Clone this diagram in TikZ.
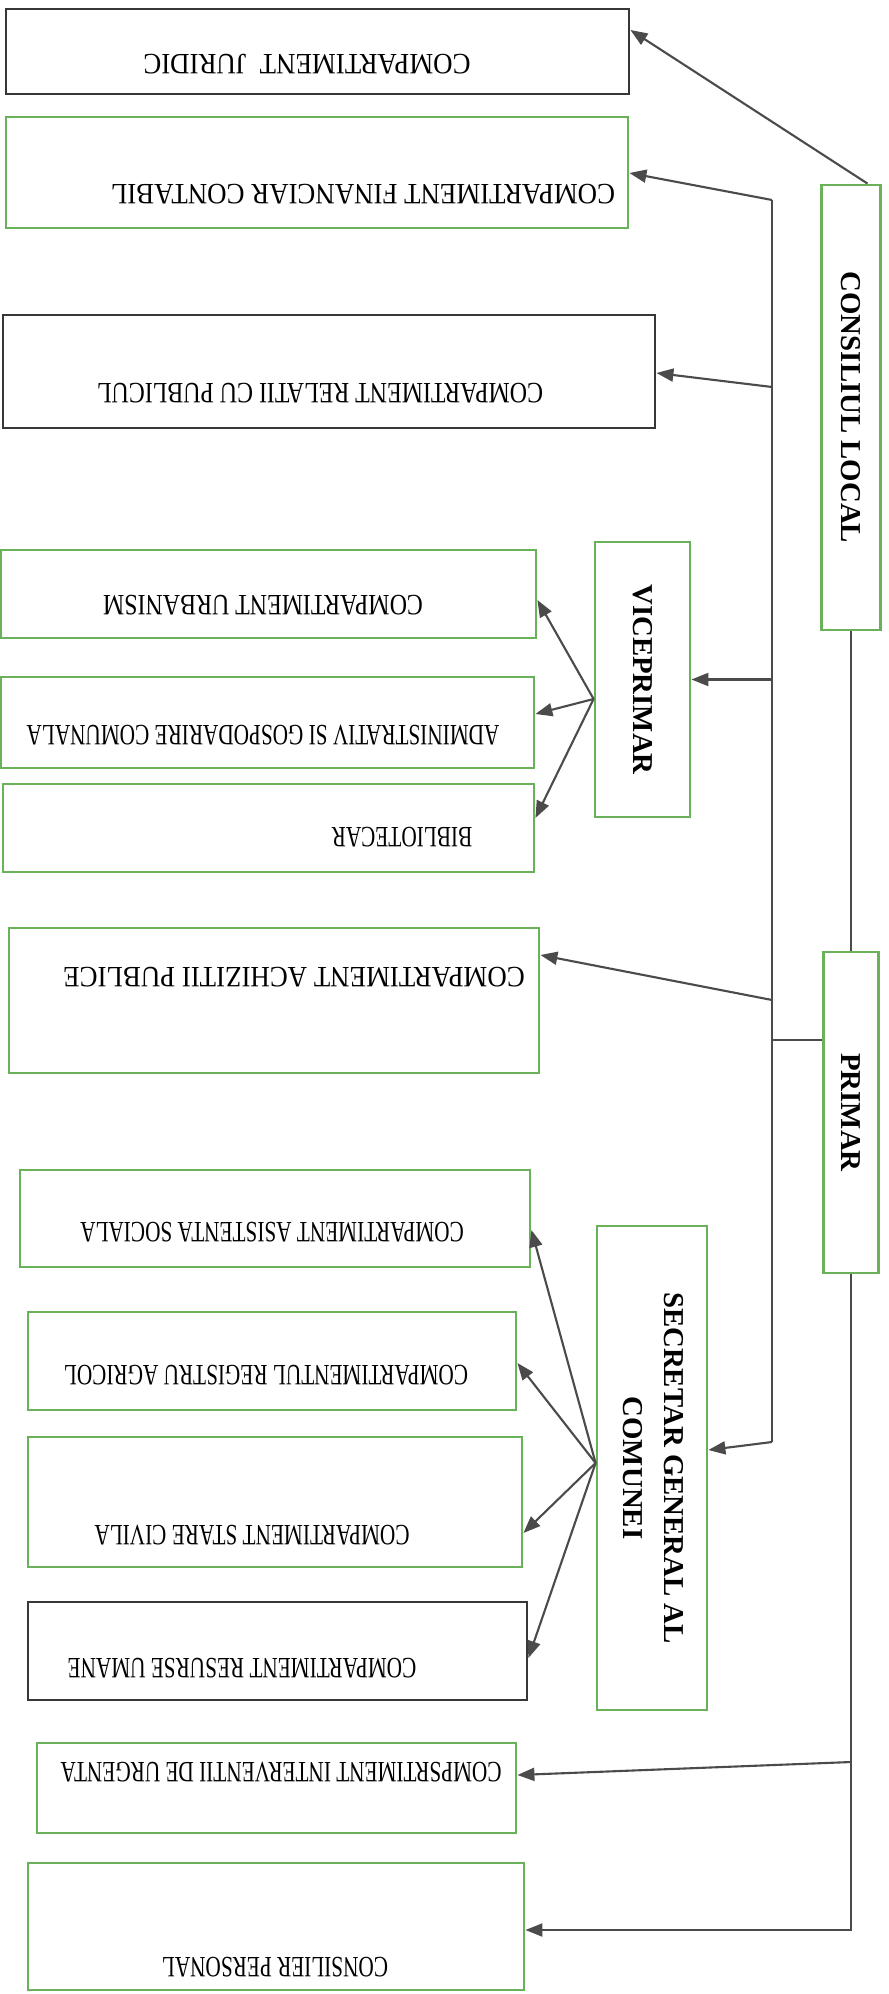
\documentclass[tikz,border=0pt]{standalone}
\usepackage{fontspec}
\setmainfont{Liberation Serif}
\newfontfamily\widefont[FakeStretch=0.91]{Liberation Serif}
\newfontfamily\midfont[FakeStretch=0.81]{Liberation Serif}
\newfontfamily\slimfont[FakeStretch=0.72]{Liberation Serif}
\usepackage{graphicx}
\usepackage{xcolor}
\usepackage{tikz}
\usetikzlibrary{arrows.meta}

\definecolor{boxgreen}{RGB}{106,178,90}
\definecolor{boxdark}{RGB}{55,55,55}
\definecolor{linegray}{RGB}{75,75,75}

\tikzset{
  greenbox/.style={draw=boxgreen, line width=0.8pt, inner sep=0pt},
  darkbox/.style={draw=boxdark, line width=0.8pt, inner sep=0pt},
  conn/.style={draw=linegray, line width=0.6pt},
  arr/.style={conn, -{Triangle[length=1.7mm, width=1.3mm]}},
  widetxt/.style={inner sep=0pt, rotate=180, font=\fontsize{8.4}{10}\selectfont\widefont},
  midtxt/.style={inner sep=0pt, rotate=180, font=\fontsize{8.4}{10}\selectfont\midfont},
  slimtxt/.style={inner sep=0pt, rotate=180, font=\fontsize{8.4}{10}\selectfont\slimfont},
  head/.style={font=\fontsize{8.2}{11.4}\selectfont\bfseries},
}

\begin{document}
\begin{tikzpicture}[x=0.1mm, y=-0.1mm]

    \useasboundingbox (0,0) rectangle (889,1994);

    % right column
    \node[greenbox, head, minimum width=5.9mm, minimum height=44.5mm] (cl) at (851,407.5) {\rotatebox{-90}{CONSILIUL LOCAL}};
    \node[greenbox, head, minimum width=9.5mm, minimum height=27.5mm] (vice) at (642.5,679.5) {\rotatebox{-90}{VICEPRIMAR}};
    \node[greenbox, head, minimum width=5.5mm, minimum height=32.1mm] (pri) at (851,1112.5) {\rotatebox{-90}{PRIMAR}};
    \node[greenbox, head, minimum width=11mm, minimum height=48.4mm] (sec) at (652,1468) {\rotatebox{-90}{\begin{tabular}{@{}c@{}}SECRETAR GENERAL AL\\COMUNEI\end{tabular}}};

    % compartments
    \node[darkbox, minimum width=62.3mm, minimum height=8.5mm] (jur) at (317.5,51.5) {};
    \node[widetxt] (jurtxt) at (307,64) {COMPARTIMENT\ \ JURIDIC};
    \node[greenbox, minimum width=62.2mm, minimum height=11.1mm] (fin) at (317,172.5) {};
    \node[widetxt] (fintxt) at (363,194) {COMPARTIMENT FINANCIAR CONTABIL};
    \node[darkbox, minimum width=65.2mm, minimum height=11.3mm] (rel) at (329,371.5) {};
    \node[midtxt] (reltxt) at (320,393) {COMPARTIMENT RELATII CU PUBLICUL};
    \node[greenbox, minimum width=53.5mm, minimum height=8.8mm] (urb) at (268.5,594) {};
    \node[midtxt] (urbtxt) at (263,605) {COMPARTIMENT URBANISM};
    \node[greenbox, minimum width=53.3mm, minimum height=9.1mm] (adm) at (267.5,722.5) {};
    \node[slimtxt] (admtxt) at (263,735) {ADMINISTRATIV SI GOSPODARIRE COMUNALA};
    \node[greenbox, minimum width=53.1mm, minimum height=8.8mm] (bib) at (268.5,828) {};
    \node[slimtxt] (bibtxt) at (402,837) {BIBLIOTECAR};
    \node[greenbox, minimum width=53mm, minimum height=14.5mm] (ach) at (274,1000.5) {};
    \node[widetxt] (achtxt) at (294,977) {COMPARTIMENT ACHIZITII PUBLICE};
    \node[greenbox, minimum width=51mm, minimum height=9.7mm] (asi) at (275,1218.5) {};
    \node[slimtxt] (asitxt) at (272,1232) {COMPARTIMENT ASISTENTA SOCIALA};
    \node[greenbox, minimum width=48.8mm, minimum height=9.8mm] (reg) at (272,1361) {};
    \node[slimtxt] (regtxt) at (266,1375) {COMPARTIMENTUL REGISTRU AGRICOL};
    \node[greenbox, minimum width=49.4mm, minimum height=13mm] (sta) at (275,1502) {};
    \node[slimtxt] (statxt) at (252,1535) {COMPARTIMENT STARE CIVILA};
    \node[darkbox, minimum width=49.9mm, minimum height=9.8mm] (res) at (277.5,1651) {};
    \node[slimtxt] (restxt) at (242,1668) {COMPARTIMENT RESURSE UMANE};
    \node[greenbox, minimum width=47.9mm, minimum height=9mm] (urg) at (276.5,1788) {};
    \node[slimtxt] (urgtxt) at (281,1772) {COMPSRTIMENT INTERVENTII DE URGENTA};
    \node[greenbox, minimum width=49.6mm, minimum height=12.7mm] (per) at (276,1926.5) {};
    \node[slimtxt] (pertxt) at (275,1967) {CONSILIER PERSONAL};

    % lines
    \coordinate (bustop) at (772,200);
    \coordinate (busend) at (772,1442);
    \draw[conn] (bustop) -- (busend);
    \draw[conn] (cl.south) -- (pri.north);
    \draw[conn] (pri.west |- 0,1040) -- (bustop |- 0,1040);

    \draw[arr] ([xshift=1.65mm]cl.north) -- (jur.east |- 0,30);
    \draw[arr] (bustop) -- (fin.east |- 0,173);
    \draw[arr] (bustop |- 0,387) -- (rel.east |- 0,373);
    \draw[arr] (bustop |- vice.east) -- (vice.east);
    \draw[arr] (bustop |- 0,1000) -- (ach.east |- 0,955);
    \draw[arr] (busend) -- (sec.east |- 0,1450);
    \draw[arr] (pri.south |- 0,1762) -- (urg.east |- 0,1775);
    \draw[arr] (pri.south) |- (per.east |- 0,1930);

    \coordinate (vfan) at (vice.west |- 0,699);
    \foreach \dst/\y in {urb/600, adm/714, bib/818}
    \draw[arr] (vfan) -- (\dst.east |- 0,\y);

    \coordinate (sfan) at (sec.west |- 0,1463);
    \foreach \dst/\y in {asi/1230, reg/1363, sta/1533, res/1658}
    \draw[arr] (sfan) -- (\dst.east |- 0,\y);

\end{tikzpicture}
\end{document}
